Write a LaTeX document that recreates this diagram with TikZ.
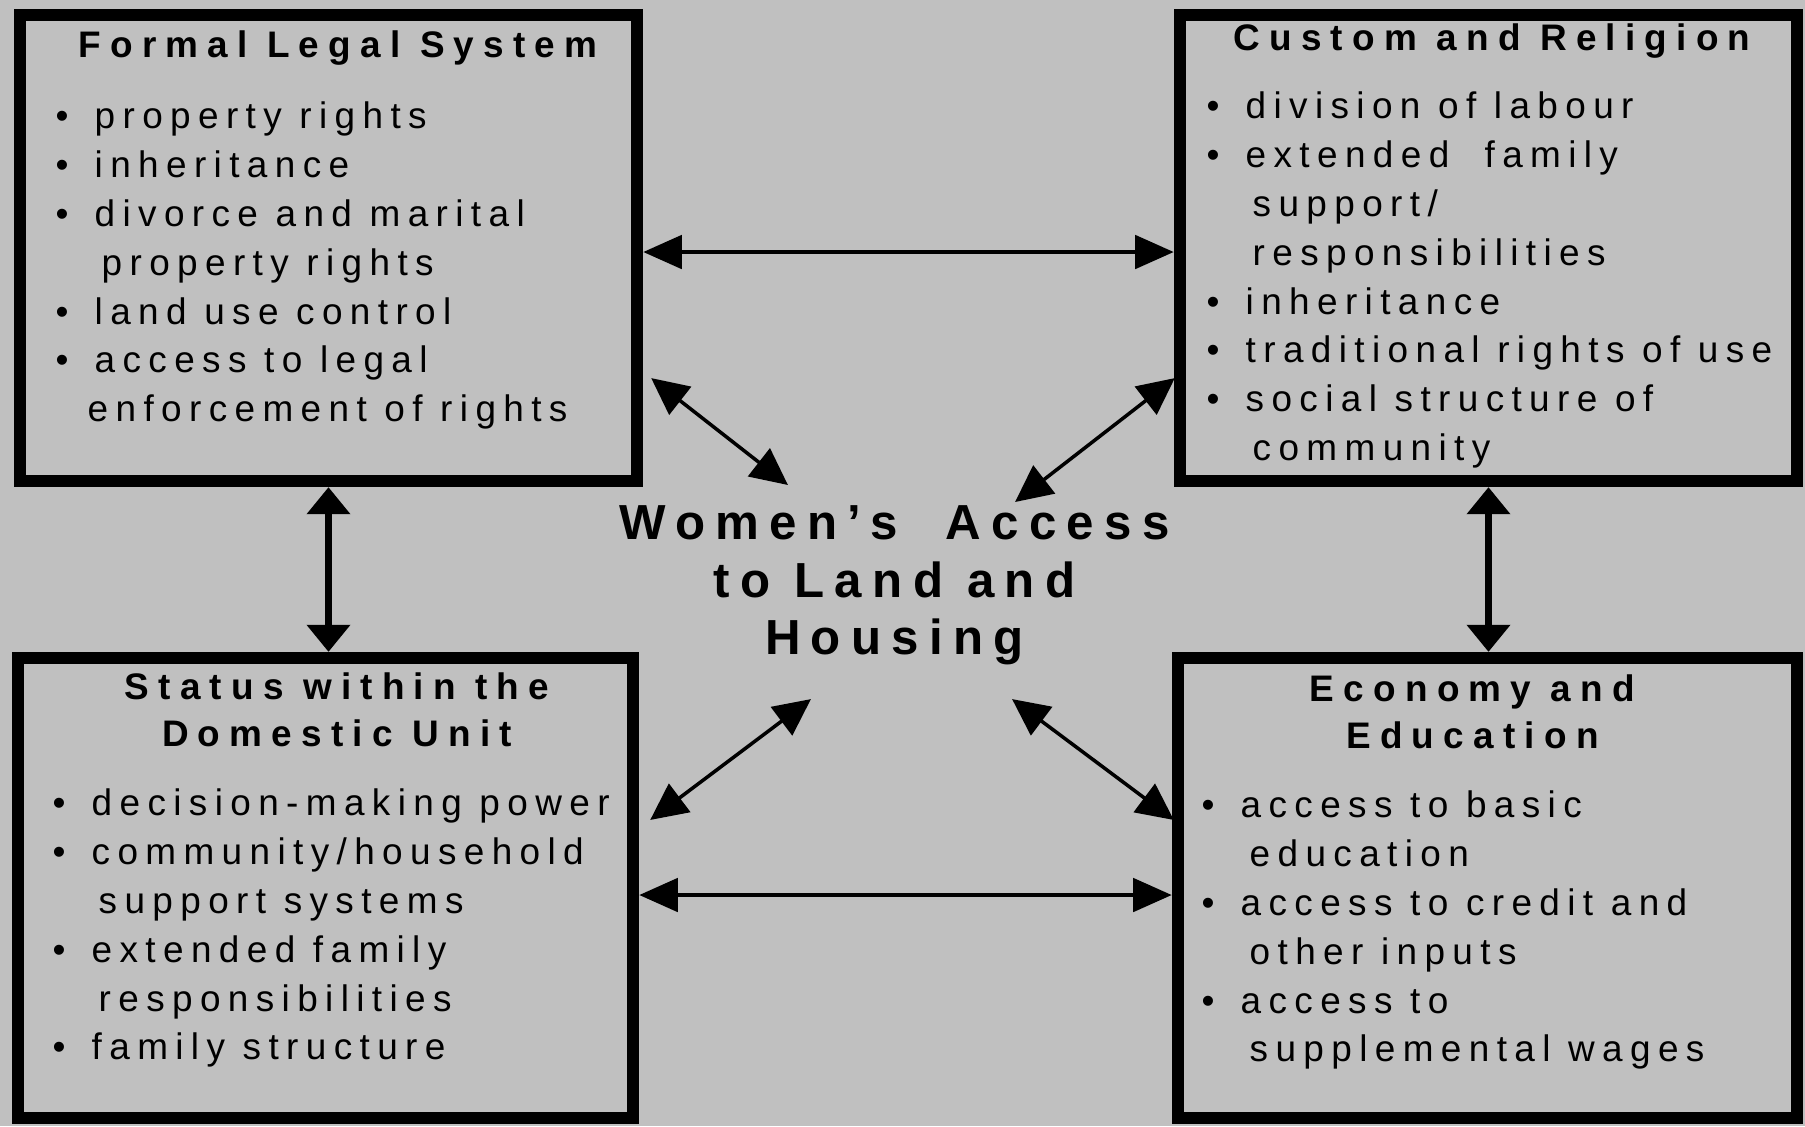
\documentclass[tikz,border=0pt]{standalone}
\usepackage{fontspec}
\setmainfont{Liberation Sans}[LetterSpace=20]
\usetikzlibrary{arrows.meta}
\definecolor{panelgray}{RGB}{192,192,192}
\newcommand{\bul}{\makebox[0.39cm][l]{\textbullet}}

\begin{document}
\begin{tikzpicture}[x=0.01cm, y=-0.01cm]
 \tikzstyle{panel}=[rectangle, draw, line width=0.12cm, inner sep=0pt]
 \tikzstyle{head}=[font=\fontsize{10.5}{13.5}\selectfont\bfseries\addfontfeatures{LetterSpace=25}, align=center, anchor=north, inner sep=0pt]
 \tikzstyle{items}=[font=\fontsize{10.5}{13.9}\selectfont, align=left, anchor=north west, inner sep=0pt]
 \tikzstyle{hub}=[font=\fontsize{14}{16.4}\selectfont\bfseries\addfontfeatures{LetterSpace=21}, align=center, anchor=north, inner sep=0pt]
 \tikzstyle{link}=[{Triangle[length=11pt, width=9.4pt]}-{Triangle[length=11pt, width=9.4pt]}, line width=1.4pt]
 \tikzstyle{linkv}=[{Triangle[length=7.7pt, width=12pt]}-{Triangle[length=7.7pt, width=12pt]}, line width=2.1pt]
 \tikzstyle{linkd}=[{Triangle[length=10.5pt, width=10pt]}-{Triangle[length=10.5pt, width=10pt]}, line width=1pt]
 %
 \fill[panelgray] (0, 0) rectangle (1805, 1126);
 \useasboundingbox (0, 0) rectangle (1805, 1126);
 %
 \node[panel, minimum width=6.17cm, minimum height=4.66cm] (FLS) at (328.5, 248) {};
 \node[panel, minimum width=6.17cm, minimum height=4.66cm] (CR) at (1488.5, 248) {};
 \node[panel, minimum width=6.15cm, minimum height=4.60cm] (SDU) at (325.5, 888) {};
 \node[panel, minimum width=6.19cm, minimum height=4.60cm] (EE) at (1487.5, 888) {};
 %
 \node[head] (FLSt) at (338, 30.5) {Formal Legal System};
 \node[items] (FLSi) at (55, 101) {\bul property rights\\
  \bul inheritance\\
  \bul divorce and marital\\
  \hspace*{0.46cm}property rights\\
  \bul land use control\\
  \bul access to legal\\
  \hspace*{0.32cm}enforcement of rights};
 %
 \node[head] (CRt) at (1492, 23) {Custom and Religion};
 \node[items] (CRi) at (1206, 91) {\bul division of labour\\
  \bul extended\ \ family\\
  \hspace*{0.46cm}support/\\
  \hspace*{0.46cm}responsibilities\\
  \bul inheritance\\
  \bul traditional rights of use\\
  \bul social structure of\\
  \hspace*{0.46cm}community};
 %
 \node[head] (SDUt) at (337, 672) {Status within the\\Domestic Unit};
 \node[items] (SDUi) at (52, 788) {\bul decision-making power\\
  \bul community/household\\
  \hspace*{0.46cm}support systems\\
  \bul extended family\\
  \hspace*{0.46cm}responsibilities\\
  \bul family structure};
 %
 \node[head] (EEt) at (1472.5, 674) {Economy and\\Education};
 \node[items] (EEi) at (1201, 790) {\bul access to basic\\
  \hspace*{0.48cm}education\\
  \bul access to credit and\\
  \hspace*{0.48cm}other inputs\\
  \bul access to\\
  \hspace*{0.48cm}supplemental wages};
 %
 \node[hub] (WA) at (894.5, 505) {Women’s\ \ Access\\to Land and\\Housing};
 %%
 \draw[link] ([yshift=-0.04cm]FLS.east)--([yshift=-0.04cm]CR.west);
 \draw[link] ([yshift=-0.07cm]SDU.east)--([yshift=-0.07cm]EE.west);
 \draw[linkv] (FLS.south)--(FLS.south |- SDU.north);
 \draw[linkv] (CR.south)--(CR.south |- EE.north);
 \draw[linkd] ([xshift=0.08cm, yshift=1.09cm]FLS.south east)--([xshift=-1.065cm, yshift=0.20cm]WA.north);
 \draw[linkd] ([xshift=0.01cm, yshift=1.09cm]CR.south west)--([xshift=1.205cm, yshift=0.03cm]WA.north);
 \draw[linkd] ([xshift=0.11cm, yshift=-1.68cm]SDU.north east)--([xshift=-0.835cm, yshift=-0.33cm]WA.south);
 \draw[linkd] ([xshift=0.02cm, yshift=-1.68cm]EE.north west)--([xshift=1.175cm, yshift=-0.33cm]WA.south);
\end{tikzpicture}
\end{document}
